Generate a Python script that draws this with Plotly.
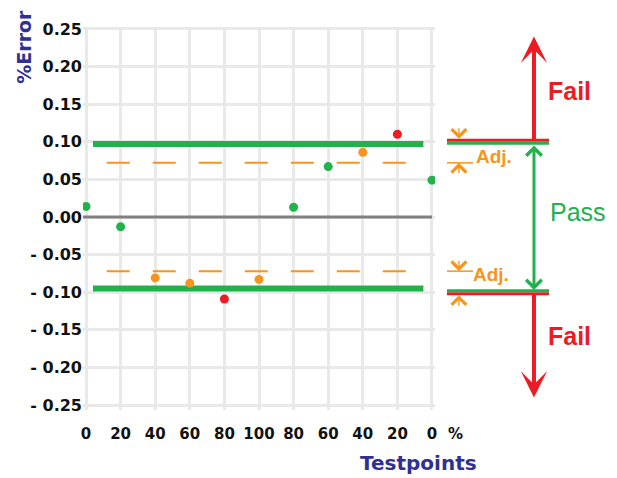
import plotly.graph_objects as go

# test points (x axis runs up to 100 % and back down)
tick_labels = ["0", "20", "40", "60", "80", "100", "80", "60", "40", "20", "0"]
errors = [0.014, -0.013, -0.081, -0.088, -0.109, -0.083, 0.013, 0.067, 0.086, 0.110, 0.049]

y_ticks = [0.25, 0.20, 0.15, 0.10, 0.05, 0.0, -0.05, -0.10, -0.15, -0.20, -0.25]
y_ticktext = ["0.25", "0.20", "0.15", "0.10", "0.05", "0.00",
              "- 0.05", "- 0.10", "- 0.15", "- 0.20", "- 0.25"]

pass_upper = 0.097
pass_lower = -0.095
adj_limit = 0.072
limit_mark = 0.1

GREEN = "#22b14c"
RED = "#ed1c24"
ORANGE = "#f7941d"
NAVY = "#2e3192"
FONT = "DejaVu Sans, Verdana, sans-serif"
ARIAL = "Arial, Liberation Sans, sans-serif"

x_idx = list(range(len(tick_labels)))


def point_colour(e):
    if abs(e) > 0.1:
        return RED
    if abs(e) > adj_limit:
        return ORANGE
    return GREEN


fig = go.Figure()

# zero line
fig.add_trace(go.Scatter(x=[-0.09, 10.0], y=[0, 0], mode="lines",
                         line=dict(color="#808080", width=3), hoverinfo="skip"))
# pass limits
for lim in (pass_upper, pass_lower):
    fig.add_trace(go.Scatter(x=[0.2, 9.75], y=[lim, lim], mode="lines",
                             line=dict(color=GREEN, width=6), hoverinfo="skip"))
# adjustment limits
for lim in (adj_limit, -adj_limit):
    fig.add_trace(go.Scatter(x=[0.6, 9.3], y=[lim, lim], mode="lines",
                             line=dict(color=ORANGE, width=2, dash="23px,23px"),
                             hoverinfo="skip"))

fig.add_trace(go.Scatter(
    x=x_idx, y=errors, mode="markers",
    marker=dict(size=9, color=[point_colour(e) for e in errors]),
    hoverinfo="skip"))

shapes = []
# right-hand limit bars (red over green)
for y, outer, inner in ((limit_mark, 0.002, -0.002), (-limit_mark, -0.002, 0.002)):
    shapes.append(dict(type="line", xref="paper", yref="y", x0=1.034, x1=1.324,
                       y0=y + outer, y1=y + outer, line=dict(color=RED, width=3)))
    shapes.append(dict(type="line", xref="paper", yref="y", x0=1.034, x1=1.324,
                       y0=y + inner, y1=y + inner, line=dict(color=GREEN, width=3)))
# right-hand adjustment ticks
for y in (adj_limit, -adj_limit):
    shapes.append(dict(type="line", xref="paper", yref="y", x0=1.034, x1=1.108,
                       y0=y, y1=y, line=dict(color=ORANGE, width=1.5)))

annotations = []
# big arrows
annotations.append(dict(xref="paper", yref="y", x=1.2812, y=0.240, ax=0, ay=limit_mark,
                        axref="pixel", ayref="y", text="", showarrow=True,
                        arrowhead=3, arrowsize=1.1, arrowwidth=4, arrowcolor=RED))
annotations.append(dict(xref="paper", yref="y", x=1.2812, y=-0.240, ax=0, ay=-limit_mark,
                        axref="pixel", ayref="y", text="", showarrow=True,
                        arrowhead=3, arrowsize=1.1, arrowwidth=4, arrowcolor=RED))
annotations.append(dict(xref="paper", yref="y", x=1.2812, y=-0.097, ax=0, ay=0.097,
                        axref="pixel", ayref="y", text="", showarrow=True,
                        arrowside="end+start", arrowhead=4, startarrowhead=4,
                        arrowsize=1, startarrowsize=1, arrowwidth=3, arrowcolor=GREEN))
# small adjustment arrows
for y, off in ((limit_mark + 0.004, -12), (adj_limit, 12), (-adj_limit, -12), (-limit_mark - 0.004, 12)):
    annotations.append(dict(xref="paper", yref="y", x=1.068, y=y, ax=0, ay=off,
                            text="", showarrow=True, arrowhead=4, arrowsize=2.2,
                            arrowwidth=1.3, arrowcolor=ORANGE, standoff=0))

annotations += [
    dict(xref="paper", yref="y", x=1.3835, y=0.168, text="<b>Fail</b>", showarrow=False,
         xanchor="center", font=dict(family=ARIAL, size=25, color=RED)),
    dict(xref="paper", yref="y", x=1.406, y=0.006, text="Pass", showarrow=False,
         xanchor="center", font=dict(family=ARIAL, size=25, color=GREEN)),
    dict(xref="paper", yref="y", x=1.3835, y=-0.158, text="<b>Fail</b>", showarrow=False,
         xanchor="center", font=dict(family=ARIAL, size=25, color=RED)),
    dict(xref="paper", yref="y", x=1.168, y=0.080, text="<b>Adj.</b>", showarrow=False,
         xanchor="center", font=dict(family=ARIAL, size=19, color=ORANGE)),
    dict(xref="paper", yref="y", x=1.159, y=-0.076, text="<b>Adj.</b>", showarrow=False,
         xanchor="center", font=dict(family=ARIAL, size=19, color=ORANGE)),
    dict(xref="paper", yref="paper", x=1.057, y=-0.091, text="<b>%</b>", showarrow=False,
         xanchor="center", font=dict(family=FONT, size=15, color="#111")),
    dict(xref="paper", yref="paper", x=0.952, y=-0.176, text="<b>Testpoints</b>",
         showarrow=False, xanchor="center",
         font=dict(family=FONT, size=20, color=NAVY)),
    dict(xref="paper", yref="paper", x=-0.168, y=1.05, yanchor="top", xanchor="center",
         textangle=-90, text="<b>%Error</b>", showarrow=False,
         font=dict(family=FONT, size=19, color=NAVY)),
]

# the page body adds an 8px margin, so the figure is 8px smaller each way
fig.update_layout(
    width=609, height=470,
    margin=dict(l=75, r=182, t=16, b=68),
    plot_bgcolor="white", paper_bgcolor="white",
    showlegend=False,
    shapes=shapes, annotations=annotations,
    xaxis=dict(range=[-0.087, 10.087], tickvals=x_idx, ticktext=tick_labels,
               showgrid=True, gridcolor="#e9e9e9", gridwidth=3, zeroline=False,
               ticks="outside", ticklen=10, tickcolor="rgba(0,0,0,0)",
               tickfont=dict(family=FONT, size=15, color="#111", weight="bold"),
               fixedrange=True),
    yaxis=dict(range=[-0.2566, 0.2526], tickvals=y_ticks, ticktext=y_ticktext,
               showgrid=True, gridcolor="#e9e9e9", gridwidth=3, zeroline=False,
               ticks="", tickfont=dict(family=FONT, size=16, color="#111", weight="bold"),
               fixedrange=True),
)

fig.write_html("out.html")
